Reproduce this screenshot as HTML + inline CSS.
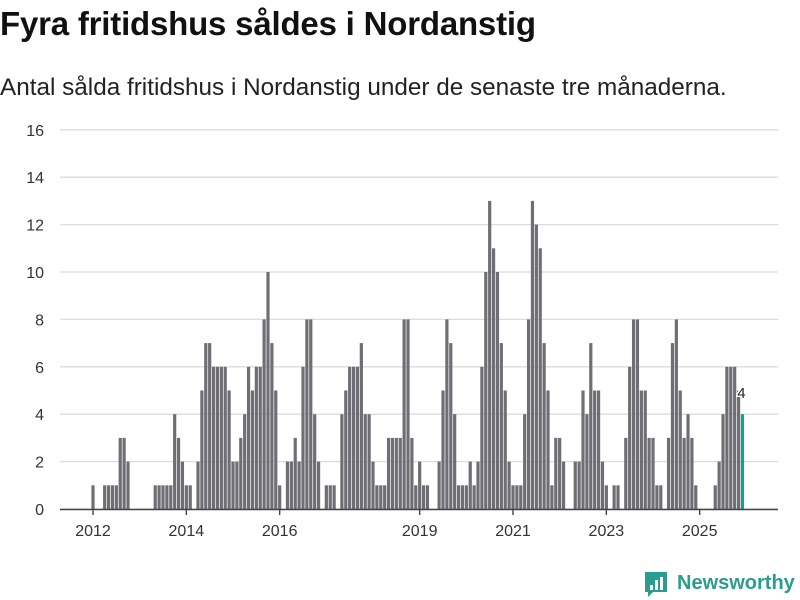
<!DOCTYPE html>
<html><head><meta charset="utf-8"><style>
body{margin:0;width:800px;height:600px;background:#fff;font-family:"Liberation Sans","DejaVu Sans",sans-serif;overflow:hidden;position:relative}
h1{position:absolute;left:0;top:5px;margin:0;font-size:33px;font-weight:bold;color:#111;letter-spacing:-0.2px;white-space:nowrap}
p.sub{position:absolute;left:0;top:74px;margin:0;font-size:24.3px;color:#222;white-space:nowrap}
svg{position:absolute;left:0;top:0}
</style></head><body>
<h1>Fyra fritidshus såldes i Nordanstig</h1>
<p class="sub">Antal sålda fritidshus i Nordanstig under de senaste tre månaderna.</p>
<svg id="chart" width="800" height="600"></svg>
<script>
const startYear = 2012;
const values = [1,0,0,1,1,1,1,3,3,2,
0,0,0,0,0,0,1,1,1,1,
1,4,3,2,1,1,0,2,5,7,
7,6,6,6,6,5,2,2,3,4,
6,5,6,6,8,10,7,5,1,0,
2,2,3,2,6,8,8,4,2,0,
1,1,1,0,4,5,6,6,6,7,
4,4,2,1,1,1,3,3,3,3,
8,8,3,1,2,1,1,0,0,2,
5,8,7,4,1,1,1,2,1,2,
6,10,13,11,10,7,5,2,1,1,
1,4,8,13,12,11,7,5,1,3,
3,2,0,0,2,2,5,4,7,5,
5,2,1,0,1,1,0,3,6,8,
8,5,5,3,3,1,1,0,3,7,
8,5,3,4,3,1,0,0,0,0,
1,2,4,6,6,6,5,4];
const yTicks = [0,2,4,6,8,10,12,14,16];
const xTickYears = [2012,2014,2016,2019,2021,2023,2025];

const svg = document.getElementById('chart');
const NS = 'http://www.w3.org/2000/svg';
const x0 = 93, pitch = 3.889, barW = 3.2;
const yBase = 509, yPerUnit = 23.7;
function xScale(i){ return x0 + pitch*i; }
function yScale(v){ return yBase - yPerUnit*v; }
function mk(tag, attrs){ const e=document.createElementNS(NS,tag); for(const k in attrs) e.setAttribute(k,attrs[k]); svg.appendChild(e); return e; }

yTicks.forEach(t=>{
  const g = mk('line',{x1:60,x2:778,y1:yScale(t),y2:yScale(t),stroke:'#dcdcdc','stroke-width':1.3});
  
  
  const l = mk('text',{x:44,y:yScale(t)+6,'text-anchor':'end','font-size':16,fill:'#333'});
  l.textContent = t;
  
  
});

values.forEach((v,i)=>{
  if(v<=0) return;
  const last = i===values.length-1;
  const r = mk('rect',{x:xScale(i)-barW/2,y:yScale(v),width:barW,height:yBase-yScale(v),fill:last?'#13a08f':'#6f6e74'});
  
  
});

const ax = mk('line',{x1:60,x2:778,y1:yBase+0.5,y2:yBase+0.5,stroke:'#444','stroke-width':1.6});



xTickYears.forEach(yr=>{
  const i = (yr-startYear)*12;
  const t = mk('line',{x1:xScale(i),x2:xScale(i),y1:yBase,y2:yBase+6,stroke:'#444','stroke-width':1.4});
  
  
  const l = mk('text',{x:xScale(i),y:536,'text-anchor':'middle','font-size':16,fill:'#333'});
  l.textContent = yr;
  
  
});

const li = values.length-1;
const vl = mk('text',{x:xScale(li)-1,y:yScale(values[li])-16,'text-anchor':'middle','font-size':15,fill:'#222',stroke:'#fff','stroke-width':3,'paint-order':'stroke'});
vl.textContent = values[li];



const logo = mk('g',{});


const ic = document.createElementNS(NS,'path');
ic.setAttribute('d','M645 572 h22 v20 h-14 l-5 5 v-5 h-3 z');
ic.setAttribute('fill','#2a9d8f');
logo.appendChild(ic);
[[650,585,3,5],[655,580,3,10],[660,577,3,13]].forEach(b=>{
  const r=document.createElementNS(NS,'rect');
  r.setAttribute('x',b[0]);r.setAttribute('y',b[1]);r.setAttribute('width',b[2]);r.setAttribute('height',b[3]);r.setAttribute('fill','#fff');
  logo.appendChild(r);
});
const lt = document.createElementNS(NS,'text');
lt.setAttribute('x',677);lt.setAttribute('y',589);lt.setAttribute('font-size',20);lt.setAttribute('font-weight','bold');lt.setAttribute('fill','#2a9d8f');
lt.textContent='Newsworthy';
logo.appendChild(lt);
svg.appendChild(logo);
</script>
</body></html>
